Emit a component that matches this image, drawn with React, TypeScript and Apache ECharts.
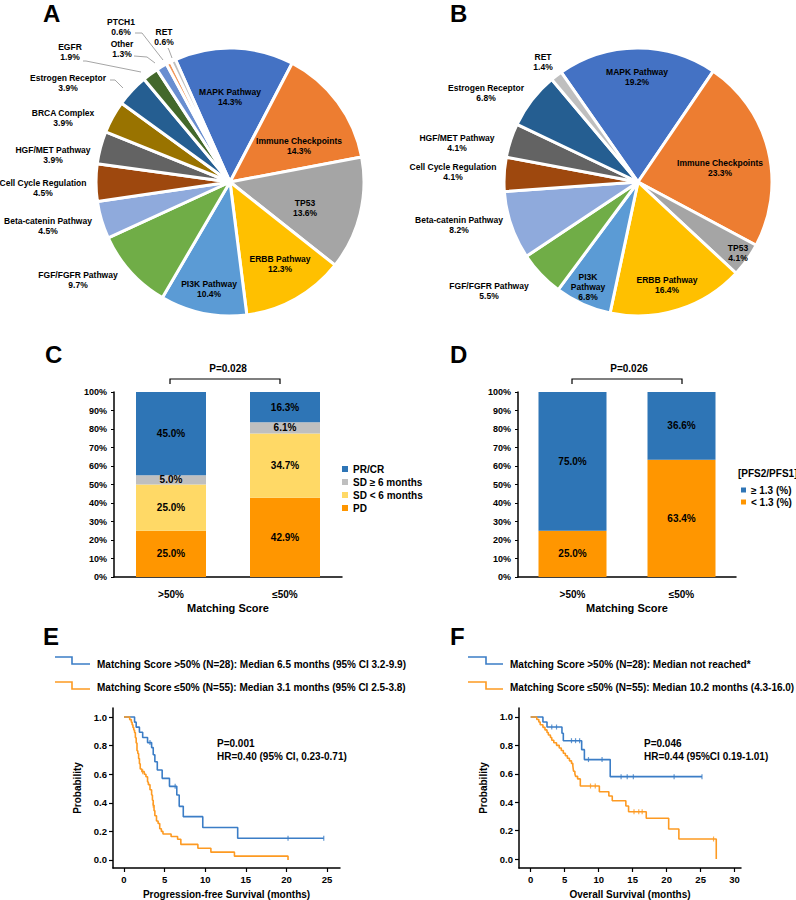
import React, { useEffect, useRef } from "react";
import * as echarts from "echarts";

// ---------------- Data ----------------
const pieANames = [
  "MAPK Pathway", "Immune Checkpoints", "TP53", "ERBB Pathway", "PI3K Pathway",
  "FGF/FGFR Pathway", "Beta-catenin Pathway", "Cell Cycle Regulation", "HGF/MET Pathway",
  "BRCA Complex", "Estrogen Receptor", "EGFR", "Other", "PTCH1", "RET",
];
const pieAValues = [14.3, 14.3, 13.6, 12.3, 10.4, 9.7, 4.5, 4.5, 3.9, 3.9, 3.9, 1.9, 1.3, 0.6, 0.6];

const pieBNames = [
  "MAPK Pathway", "Immune Checkpoints", "TP53", "ERBB Pathway", "PI3K Pathway",
  "FGF/FGFR Pathway", "Beta-catenin Pathway", "Cell Cycle Regulation", "HGF/MET Pathway",
  "Estrogen Receptor", "RET",
];
const pieBValues = [19.2, 23.3, 4.1, 16.4, 6.8, 5.5, 8.2, 4.1, 4.1, 6.8, 1.4];

const matchingCats = [">50%", "≤50%"];
const respPRCR = [45.0, 16.3];
const respSDge6 = [5.0, 6.1];
const respSDlt6 = [25.0, 34.7];
const respPD = [25.0, 42.9];
const ratioGe13 = [75.0, 36.6];
const ratioLt13 = [25.0, 63.4];

const kmProbTicks = [0, 0.2, 0.4, 0.6, 0.8, 1.0];
const pfsMonthTicks = [0, 5, 10, 15, 20, 25];
const osMonthTicks = [0, 5, 10, 15, 20, 25, 30];

// PFS, matching score >50%
const pfsHighTime = [0, 1.3, 1.5, 1.9, 2.3, 2.9, 3.4, 3.6, 3.8, 4.1, 4.7, 5.6, 6.5, 6.8, 7.3, 9.7, 14.0, 24.6];
const pfsHighSurv = [1.0, 0.964, 0.929, 0.893, 0.857, 0.821, 0.786, 0.736, 0.687, 0.629, 0.571, 0.515, 0.455, 0.375, 0.303, 0.227, 0.152, 0.152];
const pfsHighCensor = [3.2, 6.3, 20.2, 24.6];
// PFS, matching score <=50%
const pfsLowTime = [0, 0.7, 0.9, 1.0, 1.1, 1.2, 1.3, 1.4, 1.5, 1.6, 1.7, 1.8, 1.9, 2.0, 2.2, 2.5, 2.7, 2.9, 3.0, 3.2, 3.4, 3.5, 3.6, 3.7, 3.8, 4.0, 4.2, 4.4, 4.6, 4.8, 5.8, 6.6, 7.0, 9.1, 10.7, 13.6, 20.2];
const pfsLowSurv = [1.0, 0.982, 0.964, 0.945, 0.927, 0.909, 0.891, 0.855, 0.818, 0.764, 0.745, 0.709, 0.673, 0.636, 0.618, 0.6, 0.582, 0.545, 0.527, 0.491, 0.455, 0.418, 0.382, 0.345, 0.309, 0.273, 0.255, 0.218, 0.2, 0.182, 0.164, 0.145, 0.109, 0.082, 0.055, 0.027, 0.0];
const pfsLowCensor = [2.3, 3.6];
// OS, matching score >50%
const osHighTime = [0, 1.8, 2.4, 4.6, 4.8, 7.5, 7.9, 11.7, 25.2];
const osHighSurv = [1.0, 0.964, 0.929, 0.885, 0.833, 0.77, 0.7, 0.58, 0.58];
const osHighCensor = [3.1, 3.8, 6.0, 6.6, 7.2, 8.5, 10.5, 13.3, 14.2, 15.1, 21.1, 25.2];
// OS, matching score <=50%
const osLowTime = [0, 0.9, 1.2, 1.4, 1.8, 2.1, 2.4, 2.6, 2.9, 3.1, 3.4, 3.8, 4.2, 4.5, 4.8, 5.1, 5.4, 5.7, 6.0, 6.2, 6.3, 6.5, 6.6, 6.9, 7.3, 10.1, 11.5, 12.0, 14.0, 14.4, 17.0, 20.3, 21.8, 27.3];
const osLowSurv = [1.0, 0.982, 0.964, 0.945, 0.927, 0.909, 0.891, 0.873, 0.855, 0.836, 0.818, 0.8, 0.782, 0.764, 0.745, 0.727, 0.709, 0.691, 0.673, 0.655, 0.618, 0.6, 0.582, 0.564, 0.514, 0.474, 0.444, 0.41, 0.373, 0.333, 0.287, 0.211, 0.141, 0.0];
const osLowCensor = [8.8, 9.5, 15.2, 15.9, 16.4, 26.9];

// ---------------- Styles / layout ----------------
const FF = '"Liberation Sans", Arial, Helvetica, sans-serif';
const KM_BLUE = "#3b7dc6";
const KM_ORANGE = "#fd9a22";

const sliceColors: Record<string, string> = {
  "MAPK Pathway": "#4472C4",
  "Immune Checkpoints": "#ED7D31",
  "TP53": "#A5A5A5",
  "ERBB Pathway": "#FFC000",
  "PI3K Pathway": "#5B9BD5",
  "FGF/FGFR Pathway": "#70AD47",
  "Beta-catenin Pathway": "#8FAADC",
  "Cell Cycle Regulation": "#9E480E",
  "HGF/MET Pathway": "#636363",
  "BRCA Complex": "#997300",
  "Estrogen Receptor": "#255E91",
  "EGFR": "#43682B",
  "Other": "#698ED0",
  "PTCH1": "#F1975A",
  "RET": "#BFBFBF",
};

const pieALabelPos: Record<string, [number, number]> = {
  "MAPK Pathway": [230, 97],
  "Immune Checkpoints": [299, 146],
  "TP53": [305, 208],
  "ERBB Pathway": [280, 264],
  "PI3K Pathway": [209, 289],
  "FGF/FGFR Pathway": [78, 280],
  "Beta-catenin Pathway": [48, 226],
  "Cell Cycle Regulation": [43, 188],
  "HGF/MET Pathway": [53, 155],
  "BRCA Complex": [63, 118],
  "Estrogen Receptor": [68, 83],
  "EGFR": [70, 52],
  "Other": [122, 49],
  "PTCH1": [121, 27],
  "RET": [164, 37],
};
const pieALeaders: Record<string, number[][]> = {
  "Estrogen Receptor": [[123, 88], [115, 80], [110, 80]],
  "EGFR": [[141, 72], [86, 61], [83, 61]],
  "Other": [[155, 63], [147, 57], [134, 56]],
  "PTCH1": [[163, 60], [142, 33], [135, 33]],
  "RET": [[172, 58], [169, 50], [168, 48]],
};
const pieBLabelPos: Record<string, [number, number]> = {
  "MAPK Pathway": [637, 77],
  "Immune Checkpoints": [720, 168],
  "TP53": [738, 253],
  "ERBB Pathway": [667, 285],
  "PI3K Pathway": [588, 287],
  "FGF/FGFR Pathway": [489, 291],
  "Beta-catenin Pathway": [459, 225],
  "Cell Cycle Regulation": [453, 172],
  "HGF/MET Pathway": [457, 143],
  "Estrogen Receptor": [486, 93],
  "RET": [543, 62],
};
const pieBBreaks: Record<string, string> = { "PI3K Pathway": "PI3K\nPathway" };

const bold = (size: number) => ({ fontFamily: FF, fontWeight: "bold" as const, fontSize: size, color: "#000" });

function survAt(t: number[], s: number[], time: number) {
  let v = s[0];
  for (let i = 0; i < t.length; i++) if (t[i] <= time) v = s[i];
  return v;
}

function pieSeries(
  names: string[], values: number[], center: number[], startAngle: number,
  pos: Record<string, [number, number]>, leaders: Record<string, number[][]>, breaks: Record<string, string>
) {
  return {
    type: "pie",
    center,
    radius: 134,
    startAngle,
    clockwise: true,
    avoidLabelOverlap: false,
    itemStyle: { borderColor: "#fff", borderWidth: 3 },
    label: {
      show: true,
      position: "outside",
      ...bold(8.5),
      lineHeight: 10,
      formatter: (p: any) => `${breaks[p.name] ?? p.name}\n${Number(p.value).toFixed(1)}%`,
    },
    labelLine: { show: false, lineStyle: { color: "#a6a6a6", width: 1 } },
    labelLayout: (p: any) => {
      const n = names[p.dataIndex];
      const q = pos[n];
      const o: any = { x: q[0], y: q[1], align: "center", verticalAlign: "middle" };
      if (leaders[n]) o.labelLinePoints = leaders[n];
      return o;
    },
    data: names.map((n, i) => ({
      name: n,
      value: values[i],
      itemStyle: { color: sliceColors[n] },
      labelLine: { show: !!leaders[n] },
    })),
  };
}

function barSeries(name: string, data: number[], color: string, idx: number, stack: string, barWidth: number) {
  return {
    type: "bar",
    name,
    data,
    stack,
    xAxisIndex: idx,
    yAxisIndex: idx,
    barWidth,
    itemStyle: { color },
    label: { show: true, position: "inside", ...bold(10), formatter: (p: any) => `${Number(p.value).toFixed(1)}%` },
  };
}

function kmSeries(t: number[], s: number[], c: number[], color: string, idx: number) {
  return [
    {
      type: "line",
      xAxisIndex: idx,
      yAxisIndex: idx,
      step: "end",
      symbol: "none",
      data: t.map((x, i) => [x, s[i]]),
      lineStyle: { color, width: 1.6 },
      z: 3,
    },
    {
      type: "scatter",
      xAxisIndex: idx,
      yAxisIndex: idx,
      symbol: "rect",
      symbolSize: [1.2, 5],
      data: c.map((x) => [x, survAt(t, s, x)]),
      itemStyle: { color },
      z: 4,
    },
  ];
}

const barY = (gridIndex: number) => ({
  type: "value",
  gridIndex,
  min: 0,
  max: 100,
  interval: 10,
  axisLine: { show: true, lineStyle: { color: "#000", width: 1.5 } },
  axisTick: { show: true, length: 3, lineStyle: { color: "#000" } },
  axisLabel: { formatter: "{value}%", ...bold(9), margin: 7 },
  splitLine: { show: false },
});
const barX = (gridIndex: number) => ({
  type: "category",
  gridIndex,
  data: matchingCats,
  axisLine: { show: true, lineStyle: { color: "#000", width: 1.5 } },
  axisTick: { show: false },
  axisLabel: { ...bold(10), margin: 12 },
  name: "Matching Score",
  nameLocation: "middle",
  nameGap: 25,
  nameTextStyle: bold(11),
});
const kmX = (gridIndex: number, min: number, max: number, ticks: number[], name: string) => ({
  type: "value",
  gridIndex,
  min,
  max,
  axisLine: { show: true, onZero: false, lineStyle: { color: "#000", width: 1.5 } },
  axisTick: { show: true, customValues: ticks, length: 4, lineStyle: { color: "#000", width: 1.2 } },
  axisLabel: { customValues: ticks, ...bold(9.5), margin: 6 },
  splitLine: { show: false },
  name,
  nameLocation: "middle",
  nameGap: 21,
  nameTextStyle: bold(10),
});
const kmY = (gridIndex: number, min: number, max: number) => ({
  type: "value",
  gridIndex,
  min,
  max,
  axisLine: { show: true, onZero: false, lineStyle: { color: "#000", width: 1.5 } },
  axisTick: { show: true, customValues: kmProbTicks, length: 4, lineStyle: { color: "#000", width: 1.2 } },
  axisLabel: { customValues: kmProbTicks, ...bold(9.5), margin: 6, formatter: (v: number) => v.toFixed(1) },
  splitLine: { show: false },
  name: "Probability",
  nameLocation: "middle",
  nameGap: 31,
  nameRotate: 90,
  nameTextStyle: bold(10),
});

const gText = (text: string, x: number, y: number, size: number, align = "left") => ({
  type: "text",
  x,
  y,
  style: { text, font: `bold ${size}px ${FF}`, fill: "#000", textAlign: align, textVerticalAlign: "middle" },
});
const gLine = (points: number[][], color: string, width: number) => ({
  type: "polyline",
  shape: { points },
  style: { stroke: color, lineWidth: width, fill: null },
});

function buildOption() {
  return {
    animation: false,
    backgroundColor: "#fff",
    textStyle: { fontFamily: FF },
    grid: [
      { left: 114, top: 392, width: 228, height: 185, outerBoundsMode: "none" },
      { left: 518, top: 392, width: 218, height: 185, outerBoundsMode: "none" },
      { left: 113, top: 708, width: 227, height: 160, outerBoundsMode: "none" },
      { left: 519, top: 708, width: 222, height: 160, outerBoundsMode: "none" },
    ],
    xAxis: [
      barX(0),
      barX(1),
      kmX(2, -1.355, 26.6, pfsMonthTicks, "Progression-free Survival (months)"),
      kmX(3, -1.72, 30.94, osMonthTicks, "Overall Survival (months)"),
    ],
    yAxis: [barY(0), barY(1), kmY(2, -0.056, 1.063), kmY(3, -0.063, 1.063)],
    legend: [
      {
        data: ["PR/CR", "SD ≥ 6 months", "SD < 6 months", "PD"],
        orient: "vertical",
        left: 337,
        top: 459,
        itemWidth: 6,
        itemHeight: 6,
        itemGap: 3,
        icon: "rect",
        selectedMode: false,
        textStyle: bold(10),
      },
      {
        data: ["≥ 1.3 (%)", "< 1.3 (%)"],
        orient: "vertical",
        left: 736,
        top: 480,
        itemWidth: 5,
        itemHeight: 5,
        itemGap: 2,
        icon: "rect",
        selectedMode: false,
        textStyle: bold(10),
      },
    ],
    series: [
      pieSeries(pieANames, pieAValues, [230, 182], 114, pieALabelPos, pieALeaders, {}),
      pieSeries(pieBNames, pieBValues, [638, 182], 125, pieBLabelPos, {}, pieBBreaks),
      barSeries("PD", respPD, "#FF9600", 0, "c", 70),
      barSeries("SD < 6 months", respSDlt6, "#FFD966", 0, "c", 70),
      barSeries("SD ≥ 6 months", respSDge6, "#BFBFBF", 0, "c", 70),
      barSeries("PR/CR", respPRCR, "#2E75B6", 0, "c", 70),
      barSeries("< 1.3 (%)", ratioLt13, "#FF9600", 1, "d", 68),
      barSeries("≥ 1.3 (%)", ratioGe13, "#2E75B6", 1, "d", 68),
      ...kmSeries(pfsHighTime, pfsHighSurv, pfsHighCensor, KM_BLUE, 2),
      ...kmSeries(pfsLowTime, pfsLowSurv, pfsLowCensor, KM_ORANGE, 2),
      ...kmSeries(osHighTime, osHighSurv, osHighCensor, KM_BLUE, 3),
      ...kmSeries(osLowTime, osLowSurv, osLowCensor, KM_ORANGE, 3),
    ],
    graphic: [
      gText("A", 43, 13.5, 24),
      gText("B", 450, 13.5, 24),
      gText("C", 45, 354, 24),
      gText("D", 450, 354, 24),
      gText("E", 43, 636, 24),
      gText("F", 450, 636, 24),
      gText("P=0.028", 228, 368, 10, "center"),
      gLine([[170, 384], [170, 379], [280, 379], [280, 384]], "#000", 1.2),
      gText("P=0.026", 629, 368, 10, "center"),
      gLine([[572, 384], [572, 379], [682, 379], [682, 384]], "#000", 1.2),
      gText("[PFS2/PFS1]", 738, 473, 10),
      gLine([[55, 657], [72, 657], [72, 664], [90, 664]], KM_BLUE, 1.6),
      gText("Matching Score >50% (N=28): Median 6.5 months (95% CI 3.2-9.9)", 97, 664, 10),
      gLine([[55, 682], [72, 682], [72, 689], [90, 689]], KM_ORANGE, 1.6),
      gText("Matching Score ≤50% (N=55): Median 3.1 months (95% CI 2.5-3.8)", 97, 687, 10),
      gLine([[468, 657], [486, 657], [486, 664], [503, 664]], KM_BLUE, 1.6),
      gText("Matching Score >50% (N=28): Median not reached*", 510, 664, 10),
      gLine([[468, 682], [486, 682], [486, 689], [503, 689]], KM_ORANGE, 1.6),
      gText("Matching Score ≤50% (N=55): Median 10.2 months (4.3-16.0)", 510, 687, 10),
      gText("P=0.001", 217, 743, 10),
      gText("HR=0.40 (95% CI, 0.23-0.71)", 217, 756, 10),
      gText("P=0.046", 644, 743, 10),
      gText("HR=0.44 (95%CI 0.19-1.01)", 644, 756, 10),
    ],
  };
}

export default function App() {
  const ref = useRef<HTMLDivElement>(null);
  useEffect(() => {
    if (!ref.current) return;
    const chart = echarts.init(ref.current, null, { renderer: "svg" });
    chart.setOption(buildOption() as any);
    return () => chart.dispose();
  }, []);
  return (
    <div
      ref={ref}
      style={{ position: "fixed", left: 0, top: 0, width: 796, height: 900, background: "#fff" }}
    />
  );
}
